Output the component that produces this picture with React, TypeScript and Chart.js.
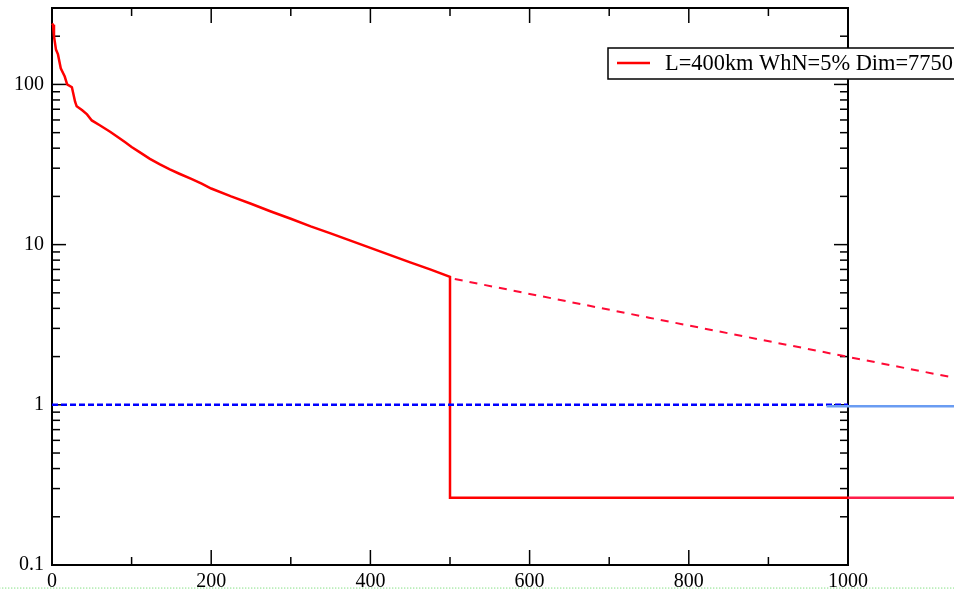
import React, { useEffect, useRef } from "react";
import { Chart, registerables } from "chart.js";

Chart.register(...registerables);

// ---- data ----
const redX = [0, 1.3, 2.5, 5, 7.5, 11, 16, 19, 25, 29, 31, 38, 44, 50, 60, 73, 83, 92, 100, 110, 123, 135, 148, 160, 175, 188, 200, 225, 250, 275, 300, 325, 350, 375, 400, 425, 450, 475, 500, 500, 1000];
const redY = [240, 236, 200, 165, 154, 126, 112, 100, 96, 78, 73, 69, 65, 59.6, 55.6, 50.7, 46.8, 43.5, 40.7, 37.8, 34.3, 31.8, 29.5, 27.7, 25.7, 24.0, 22.4, 20.0, 18.0, 16.1, 14.5, 13.0, 11.75, 10.6, 9.55, 8.6, 7.75, 7.0, 6.3, 0.263, 0.263];
const redTailX = [1000, 1135];
const redTailY = [0.263, 0.263];
const dashRedX = [506, 750, 1135];
const dashRedY = [6.1, 3.5, 1.47];
const blueX = [0, 1000];
const blueY = [1, 1];
const lightBlueX = [973, 1135];
const lightBlueY = [0.979, 0.979];
const greenX = [-70, 1135];
const greenY = [0.0718, 0.0718];

const xTickValues = [0, 200, 400, 600, 800, 1000];
const xMinorValues = [100, 300, 500, 700, 900];
const yTickValues = [0.1, 1, 10, 100];
const yTickLabels = ["0.1", "1", "10", "100"];
const legendLabel = "L=400km WhN=5% Dim=7750";

const FONT = "'Liberation Serif', 'DejaVu Serif', serif";

const pts = (xs: number[], ys: number[]) => xs.map((x, i) => ({ x, y: ys[i] }));

const framePlugin = {
  id: "frame",
  beforeDatasetsDraw(chart: any) {
    const { ctx, chartArea: a, scales } = chart;
    const x = scales.x;
    const y = scales.y;
    ctx.save();
    ctx.strokeStyle = "#000";
    ctx.lineWidth = 2;
    ctx.strokeRect(a.left, a.top, a.right - a.left, a.bottom - a.top);
    ctx.lineWidth = 1.5;
    const seg = (x1: number, y1: number, x2: number, y2: number) => {
      ctx.beginPath();
      ctx.moveTo(x1, y1);
      ctx.lineTo(x2, y2);
      ctx.stroke();
    };
    for (const v of xTickValues) {
      const p = x.getPixelForValue(v);
      seg(p, a.bottom, p, a.bottom - 15);
      seg(p, a.top, p, a.top + 15);
    }
    for (const v of xMinorValues) {
      const p = x.getPixelForValue(v);
      seg(p, a.bottom, p, a.bottom - 8);
      seg(p, a.top, p, a.top + 8);
    }
    const ymax = y.max;
    for (const d of yTickValues) {
      const p = y.getPixelForValue(d);
      seg(a.left, p, a.left + 14, p);
      seg(a.right, p, a.right - 14, p);
      for (let m = 2; m <= 9; m++) {
        const v = d * m;
        if (v > ymax) break;
        const q = y.getPixelForValue(v);
        seg(a.left, q, a.left + 8, q);
        seg(a.right, q, a.right - 8, q);
      }
    }
    ctx.restore();
  },
  afterDraw(chart: any) {
    const { ctx } = chart;
    ctx.save();
    ctx.fillStyle = "#fff";
    ctx.strokeStyle = "#000";
    ctx.lineWidth = 1.5;
    ctx.fillRect(608, 48, 360, 31);
    ctx.strokeRect(608, 48, 360, 31);
    ctx.strokeStyle = "#ff0000";
    ctx.lineWidth = 2.5;
    ctx.beginPath();
    ctx.moveTo(617, 63);
    ctx.lineTo(650, 63);
    ctx.stroke();
    ctx.fillStyle = "#000";
    ctx.font = `22.4px ${FONT}`;
    ctx.textBaseline = "middle";
    ctx.textAlign = "left";
    ctx.fillText(legendLabel, 665, 64);
    ctx.restore();
  },
};

export default function App() {
  const ref = useRef<HTMLCanvasElement | null>(null);
  useEffect(() => {
    if (!ref.current) return;
    const base = { pointRadius: 0, tension: 0, fill: false, clip: false as any, showLine: true };
    const chart = new Chart(ref.current, {
      type: "line",
      data: {
        datasets: [
          { ...base, data: pts(greenX, greenY), borderColor: "#55d455", borderWidth: 1, borderDash: [1, 2] },
          { ...base, data: pts(lightBlueX, lightBlueY), borderColor: "#6a9cf2", borderWidth: 2.5 },
          { ...base, data: pts(blueX, blueY), borderColor: "#0000ff", borderWidth: 2.5, borderDash: [6, 3] },
          { ...base, data: pts(dashRedX, dashRedY), borderColor: "#ff0a35", borderWidth: 2, borderDash: [8, 7] },
          { ...base, data: pts(redTailX, redTailY), borderColor: "#ff1e4b", borderWidth: 2.5 },
          { ...base, data: pts(redX, redY), borderColor: "#ff0000", borderWidth: 2.5 },
        ],
      },
      options: {
        animation: false,
        responsive: false,
        maintainAspectRatio: false,
        layout: { padding: { top: 8, right: 106, left: 0, bottom: 0 } },
        plugins: { legend: { display: false }, tooltip: { enabled: false } },
        scales: {
          x: {
            type: "linear",
            min: 0,
            max: 1000,
            grid: { display: false, drawTicks: false },
            border: { display: false },
            ticks: {
              color: "#000",
              font: { family: FONT, size: 20 },
              padding: 5,
              maxRotation: 0,
              autoSkip: false,
              callback: (v: any) => String(v),
            },
            afterBuildTicks: (axis: any) => {
              axis.ticks = xTickValues.map((v) => ({ value: v }));
            },
            afterFit: (axis: any) => {
              axis.height = 24;
              axis.paddingLeft = 0;
              axis.paddingRight = 0;
            },
          },
          y: {
            type: "logarithmic",
            min: 0.1,
            max: 300,
            grid: { display: false, drawTicks: false },
            border: { display: false },
            ticks: {
              color: "#000",
              font: { family: FONT, size: 20 },
              padding: 8,
              autoSkip: false,
              callback: (v: any) => {
                const i = yTickValues.findIndex((t) => Math.abs(t - v) < 1e-9 * Math.max(1, v));
                return i >= 0 ? yTickLabels[i] : "";
              },
            },
            afterBuildTicks: (axis: any) => {
              axis.ticks = yTickValues.map((v) => ({ value: v }));
            },
            afterFit: (axis: any) => {
              axis.width = 52;
              axis.paddingTop = 0;
              axis.paddingBottom = 0;
            },
          },
        },
      },
      plugins: [framePlugin],
    } as any);
    return () => chart.destroy();
  }, []);
  return (
    <div style={{ position: "absolute", left: 0, top: 0, width: 954, height: 589, background: "#fff" }}>
      <canvas ref={ref} width={954} height={589} style={{ display: "block" }} />
    </div>
  );
}
